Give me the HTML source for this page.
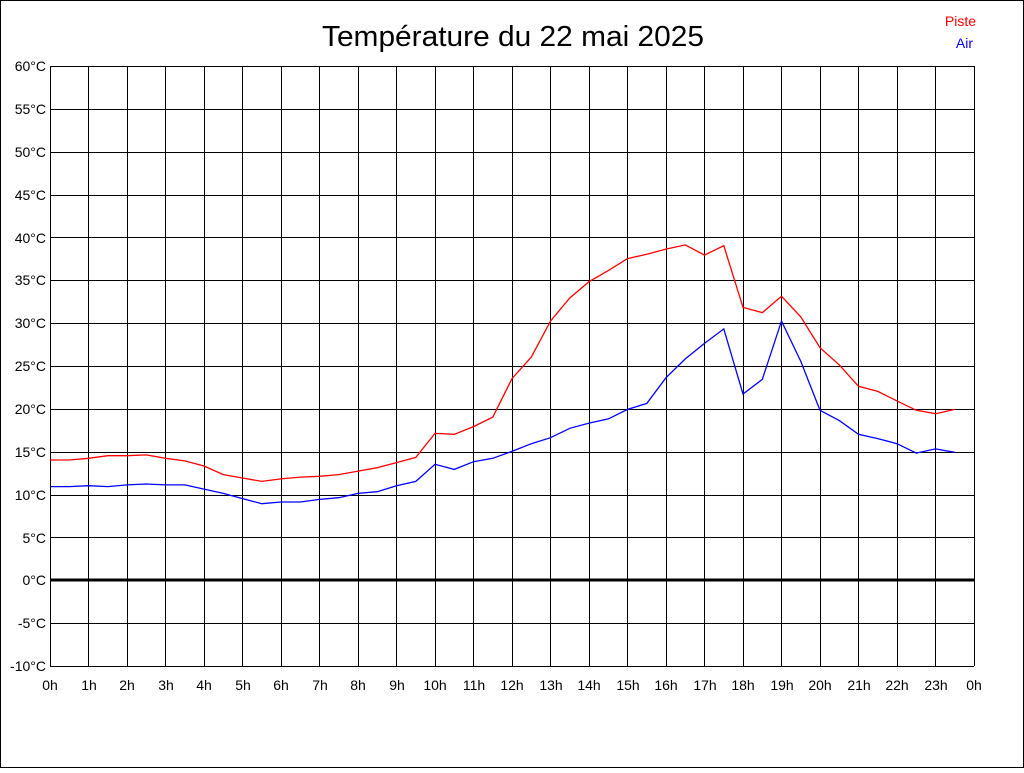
<!DOCTYPE html>
<html><head><meta charset="utf-8"><style>
body{margin:0;background:#fff}
svg text{font-family:"Liberation Sans",sans-serif}
</style></head><body>
<svg id="s" width="1024" height="768" xmlns="http://www.w3.org/2000/svg">
<rect x="0.5" y="0.5" width="1023" height="767" fill="#fff" stroke="#000"/>
<text x="513" y="46" font-size="29" text-anchor="middle" textLength="382" lengthAdjust="spacingAndGlyphs">Température du 22 mai 2025</text>
<text x="976" y="26" font-size="14" fill="#f00" text-anchor="end">Piste</text>
<text x="973" y="48" font-size="14" fill="#00f" text-anchor="end">Air</text>
<g id="grid" stroke="#000" stroke-width="1"></g>
<g font-size="14" text-anchor="end">
<text x="46" y="71">60°C</text><text x="46" y="114">55°C</text><text x="46" y="157">50°C</text>
<text x="46" y="200">45°C</text><text x="46" y="243">40°C</text><text x="46" y="285">35°C</text>
<text x="46" y="328">30°C</text><text x="46" y="371">25°C</text><text x="46" y="414">20°C</text>
<text x="46" y="457">15°C</text><text x="46" y="500">10°C</text><text x="46" y="543">5°C</text>
<text x="46" y="585">0°C</text><text x="46" y="628">-5°C</text><text x="46" y="671">-10°C</text>
</g>
<g font-size="14" text-anchor="middle">
<text x="50" y="690">0h</text><text x="89" y="690">1h</text><text x="127" y="690">2h</text><text x="166" y="690">3h</text>
<text x="204" y="690">4h</text><text x="243" y="690">5h</text><text x="281" y="690">6h</text><text x="320" y="690">7h</text>
<text x="358" y="690">8h</text><text x="397" y="690">9h</text><text x="435" y="690">10h</text><text x="474" y="690">11h</text>
<text x="512" y="690">12h</text><text x="551" y="690">13h</text><text x="589" y="690">14h</text><text x="628" y="690">15h</text>
<text x="666" y="690">16h</text><text x="705" y="690">17h</text><text x="743" y="690">18h</text><text x="782" y="690">19h</text>
<text x="820" y="690">20h</text><text x="859" y="690">21h</text><text x="897" y="690">22h</text><text x="936" y="690">23h</text>
<text x="974" y="690">0h</text>
</g>
<line x1="50" y1="580" x2="974" y2="580" stroke="#000" stroke-width="3"/>
<polyline id="r" fill="none" stroke="#f00" stroke-width="1.3"/>
<polyline id="b" fill="none" stroke="#00f" stroke-width="1.3"/>
</svg>
<script>
var g=document.getElementById('grid'),h='';
for(var i=0;i<=24;i++){var x=Math.round(49.5+i*38.5)+0.5;h+='<line x1="'+x+'" y1="66" x2="'+x+'" y2="666"/>';}
for(var j=0;j<=14;j++){var y=Math.round(66+j*600/14)+0.5;h+='<line x1="50" y1="'+y+'" x2="974" y2="'+y+'"/>';}
g.innerHTML=h;
var R=[14,14,14.2,14.5,14.5,14.6,14.2,13.9,13.3,12.3,11.9,11.5,11.8,12.0,12.1,12.3,12.7,13.1,13.7,14.3,17.1,17.0,17.9,19.0,23.5,26,30.2,32.9,34.8,36.1,37.5,38.0,38.6,39.1,37.9,39.0,31.8,31.2,33.1,30.7,27.1,25.1,22.6,22.0,20.9,19.8,19.4,19.9];
var B=[10.9,10.9,11.0,10.9,11.1,11.2,11.1,11.1,10.6,10.1,9.5,8.9,9.1,9.1,9.4,9.6,10.1,10.3,11.0,11.5,13.5,12.9,13.8,14.2,15.0,15.9,16.6,17.7,18.3,18.8,19.9,20.6,23.6,25.8,27.6,29.3,21.7,23.4,30.2,25.5,19.8,18.6,17.0,16.5,15.9,14.8,15.3,14.9];
function pts(a){return a.map(function(t,k){return (50+k*19.25).toFixed(1)+','+(580-t*600/70).toFixed(1)}).join(' ');}
document.getElementById('r').setAttribute('points',pts(R));
document.getElementById('b').setAttribute('points',pts(B));
</script>
</body></html>
